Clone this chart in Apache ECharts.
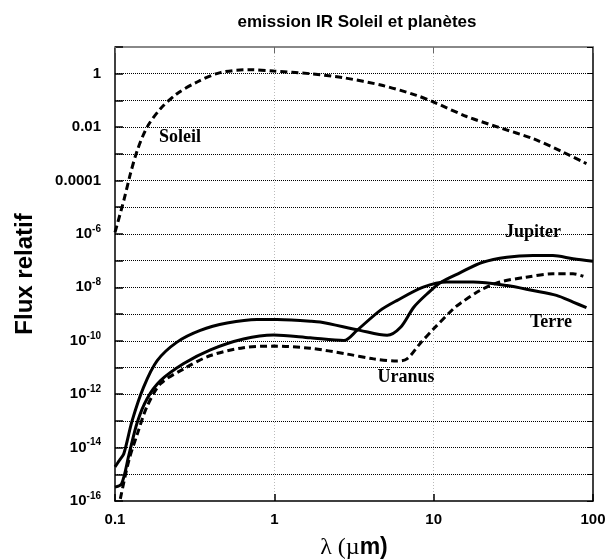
<!DOCTYPE html>
<html>
<head>
<meta charset="utf-8">
<script src="https://cdn.jsdelivr.net/npm/echarts@6/dist/echarts.min.js"></script>
<style>html,body{margin:0;padding:0;background:#fff}#c{width:606px;height:560px}</style>
</head>
<body>
<div id="c"></div>
<script>
// ---- data (wavelength in µm, relative flux) ----
const soleilLambda = [0.1, 0.1136, 0.125, 0.138, 0.159, 0.193, 0.245, 0.328, 0.458, 0.707, 0.99, 1.68, 2.7, 4.8, 7.8, 10, 16.1, 26, 42, 65, 91];
const soleilFlux   = [1.15e-6, 1.8e-5, 1.8e-4, 1.35e-3, 1.0e-2, 4.9e-2, 0.178, 0.49, 1.1, 1.41, 1.26, 1.0, 0.71, 0.36, 0.155, 0.087, 0.025, 0.0095, 0.0037, 0.00115, 0.00043];

const jupiterLambda = [0.1, 0.1065, 0.1136, 0.128, 0.151, 0.184, 0.245, 0.343, 0.505, 0.78, 1.04, 1.68, 1.94, 3.45, 5.1, 6.2, 7.5, 9.1, 11.0, 14.6, 20.3, 28.8, 42, 56, 75, 100];
const jupiterFlux   = [1.9e-15, 3.3e-15, 5.9e-15, 1.0e-13, 1.8e-12, 1.8e-11, 8.9e-11, 2.45e-10, 4.6e-10, 6.3e-10, 6.2e-10, 5.4e-10, 5.0e-10, 2.45e-10, 1.6e-10, 3.2e-10, 1.8e-9, 5.75e-9, 1.5e-8, 3.5e-8, 8.7e-8, 1.35e-7, 1.55e-7, 1.55e-7, 1.17e-7, 9.5e-8];

const terreLambda = [0.1, 0.11, 0.122, 0.138, 0.159, 0.193, 0.27, 0.397, 0.64, 0.99, 1.68, 2.73, 3.3, 4.6, 5.87, 8.6, 12.1, 17.7, 28.8, 42, 59, 75, 91];
const terreFlux   = [3.3e-16, 4.4e-16, 5.0e-15, 8.9e-14, 6.8e-13, 3.2e-12, 1.4e-11, 4.6e-11, 1.17e-10, 1.66e-10, 1.29e-10, 1.02e-10, 2.45e-10, 1.35e-9, 3.2e-9, 1.02e-8, 1.58e-8, 1.58e-8, 1.17e-8, 7.6e-9, 5.0e-9, 2.8e-9, 1.74e-9];

const uranusLambda = [0.108, 0.122, 0.138, 0.159, 0.193, 0.27, 0.397, 0.64, 0.99, 1.68, 2.84, 4.2, 5.87, 6.8, 8.2, 10, 13.3, 14.6, 19.5, 26, 38, 56, 75, 87];
const uranusFlux   = [1.2e-16, 3.2e-15, 3.2e-14, 3.5e-13, 2.45e-12, 8.9e-12, 2.8e-11, 5.5e-11, 6.3e-11, 5.25e-11, 3.2e-11, 2.1e-11, 1.74e-11, 2.1e-11, 7.8e-11, 2.8e-10, 1.58e-9, 2.45e-9, 7.6e-9, 1.58e-8, 2.4e-8, 3.2e-8, 3.2e-8, 2.6e-8];

const xTickLabels = ['0.1', '1', '10', '100'];
const yPlainLabels = { '0': '1', '-2': '0.01', '-4': '0.0001' };
const titleText = 'emission IR Soleil et planètes';
const seriesNames = ['Soleil', 'Jupiter', 'Terre', 'Uranus'];

function pairs(xs, ys) { return xs.map((x, i) => [x, ys[i]]); }

const chart = echarts.init(document.getElementById('c'), null, { renderer: 'canvas' });
const SANS = 'Liberation Sans, Arial, sans-serif';
const SERIF = 'Liberation Serif, Times New Roman, serif';

function lineSeries(name, xs, ys, dashed) {
  return {
    name: name, type: 'line', data: pairs(xs, ys),
    showSymbol: false, smooth: 0.3,
    lineStyle: { color: '#000', width: 3, type: dashed ? [7, 4] : 'solid', cap: 'butt' },
    z: 5
  };
}

chart.setOption({
  animation: false,
  backgroundColor: '#fff',
  title: {
    text: titleText, left: 352, top: 9, textAlign: 'center',
    textStyle: { fontFamily: SANS, fontWeight: 'bold', fontSize: 17, color: '#000' }
  },
  grid: { left: 115, right: 13, top: 47, bottom: 59, containLabel: false, outerBoundsMode: 'none' },
  xAxis: [
    {
      type: 'log', logBase: 10, min: 0.1, max: 100, position: 'bottom',
      axisLine: { show: true, lineStyle: { color: '#000', width: 1.5 } },
      axisTick: { show: true, inside: true, length: 7, lineStyle: { color: '#000', width: 1.5 } },
      minorTick: { show: false },
      axisLabel: {
        margin: 11, fontFamily: SANS, fontWeight: 'bold', fontSize: 15, color: '#000',
        formatter: function (v) { const e = Math.round(Math.log10(v)); return xTickLabels[e + 1] || ''; }
      },
      splitLine: { show: true, showMinLine: false, showMaxLine: false, lineStyle: { color: '#bbb', width: 1, type: [1, 2] } },
      name: '{a|λ (µ}{b|m)}', nameLocation: 'middle', nameGap: 35,
      nameTextStyle: {
        rich: {
          a: { fontFamily: SERIF, fontSize: 24, color: '#000' },
          b: { fontFamily: SANS, fontWeight: 'bold', fontSize: 23, color: '#000' }
        }
      }
    },
    {
      type: 'log', logBase: 10, min: 0.1, max: 100, position: 'top',
      axisLine: { show: true, lineStyle: { color: '#888', width: 2 } },
      axisTick: { show: true, inside: true, length: 6, lineStyle: { color: '#666', width: 1 } },
      axisLabel: { show: false }, splitLine: { show: false }
    }
  ],
  yAxis: [
    {
      type: 'log', logBase: 10, min: 1e-16, max: 10, interval: 1, position: 'left',
      axisLine: { show: true, lineStyle: { color: '#000', width: 1.5 } },
      axisTick: { show: true, inside: true, length: 8, lineStyle: { color: '#000', width: 1.5 } },
      minorTick: { show: false },
      axisLabel: {
        margin: 14, fontFamily: SANS, fontWeight: 'bold', fontSize: 15, color: '#000',
        formatter: function (v) {
          const e = Math.round(Math.log10(v));
          if (e % 2 !== 0) return '';
          if (yPlainLabels[String(e)] !== undefined) return yPlainLabels[String(e)];
          return '10{s|' + e + '}';
        },
        rich: { s: { fontFamily: SANS, fontWeight: 'bold', fontSize: 10, color: '#000', verticalAlign: 'bottom', padding: [0, 0, 10, 0] } }
      },
      splitLine: { show: true, showMinLine: false, showMaxLine: false, lineStyle: { color: '#000', width: 1, type: [1, 1] } },
      name: 'Flux relatif', nameLocation: 'middle', nameGap: 78, nameRotate: 90,
      nameTextStyle: { fontFamily: SANS, fontWeight: 'bold', fontSize: 24, color: '#000' }
    },
    {
      type: 'log', logBase: 10, min: 1e-16, max: 10, interval: 1, position: 'right',
      axisLine: { show: true, lineStyle: { color: '#000', width: 1.5 } },
      axisTick: { show: true, inside: true, length: 6, lineStyle: { color: '#000', width: 1 } },
      axisLabel: { show: false }, splitLine: { show: false }
    }
  ],
  series: [
    lineSeries(seriesNames[0], soleilLambda, soleilFlux, true),
    lineSeries(seriesNames[1], jupiterLambda, jupiterFlux, false),
    lineSeries(seriesNames[2], terreLambda, terreFlux, false),
    lineSeries(seriesNames[3], uranusLambda, uranusFlux, true)
  ],
  graphic: [
    { type: 'text', x: 180, y: 137, style: { text: seriesNames[0], font: 'bold 18px ' + SERIF, fill: '#000', align: 'center', verticalAlign: 'middle' } },
    { type: 'text', x: 533, y: 232, style: { text: seriesNames[1], font: 'bold 18px ' + SERIF, fill: '#000', align: 'center', verticalAlign: 'middle' } },
    { type: 'text', x: 551, y: 322, style: { text: seriesNames[2], font: 'bold 18px ' + SERIF, fill: '#000', align: 'center', verticalAlign: 'middle' } },
    { type: 'text', x: 406, y: 377, style: { text: seriesNames[3], font: 'bold 18px ' + SERIF, fill: '#000', align: 'center', verticalAlign: 'middle' } }
  ]
});
</script>
</body>
</html>
